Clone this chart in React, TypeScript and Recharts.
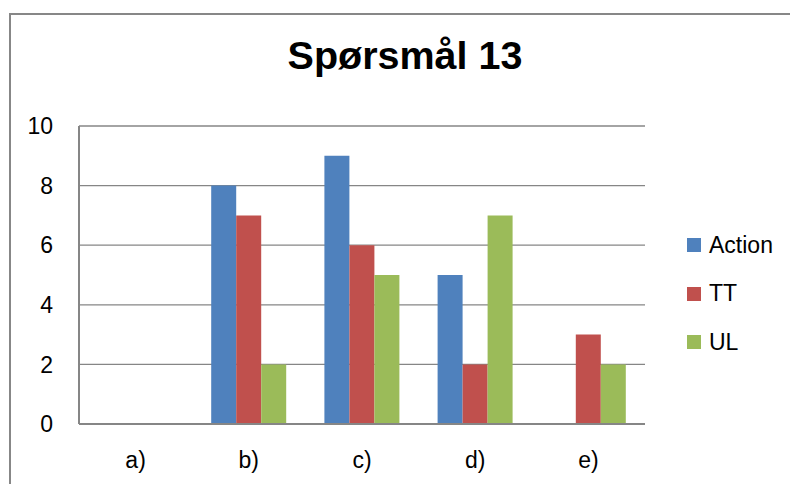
import { BarChart, Bar, XAxis, YAxis, CartesianGrid } from 'recharts'

const categories = ['a)', 'b)', 'c)', 'd)', 'e)']
const action = [0, 8, 9, 5, 0]
const tt = [0, 7, 6, 2, 3]
const ul = [0, 2, 5, 7, 2]
const yTicks = [0, 2, 4, 6, 8, 10]

const seriesInfo = [
  { key: 'Action', color: '#4f81bd' },
  { key: 'TT', color: '#c0504d' },
  { key: 'UL', color: '#9bbb59' },
]

const data = categories.map((c, i) => ({ cat: c, Action: action[i], TT: tt[i], UL: ul[i] }))

const FONT = '"Liberation Sans", Arial, sans-serif'

// legend sits right of the plot, drawn as plain html
const LegendBox = () => (
  <div style={{ position: 'absolute', left: 687, top: 221, fontFamily: FONT, fontSize: 23, color: '#000' }}>
    {seriesInfo.map((s) => (
      <div key={s.key} style={{ display: 'flex', alignItems: 'center', height: 48.5 }}>
        <span style={{ width: 14, height: 14, background: s.color, marginRight: 8, display: 'inline-block' }} />
        <span>{s.key}</span>
      </div>
    ))}
  </div>
)

export default function App() {
  return (
    <div style={{ position: 'absolute', left: 0, top: 0, width: 790, height: 484, background: '#fff', overflow: 'hidden' }}>
      <BarChart
        width={790}
        height={484}
        data={data}
        margin={{ top: 126, right: 145, bottom: 0, left: 0 }}
        barCategoryGap={19}
        barGap={0}
      >
        <CartesianGrid vertical={false} stroke="#868686" strokeWidth={1.3} />
        <XAxis
          dataKey="cat"
          height={60}
          axisLine={{ stroke: '#868686', strokeWidth: 2 }}
          tickLine={false}
          tickSize={6}
          tickMargin={22}
          tick={{ fill: '#000', fontFamily: FONT, fontSize: 23 }}
        />
        <YAxis
          width={79}
          domain={[0, 10]}
          ticks={yTicks}
          axisLine={{ stroke: '#868686', strokeWidth: 2 }}
          tickLine={false}
          tickSize={6}
          tickMargin={20}
          tick={{ fill: '#000', fontFamily: FONT, fontSize: 23 }}
        />
        {seriesInfo.map((s) => (
          <Bar key={s.key} dataKey={s.key} fill={s.color} isAnimationActive={false} />
        ))}
      </BarChart>
      <LegendBox />
      <svg width={790} height={484} style={{ position: 'absolute', left: 0, top: 0, pointerEvents: 'none' }}>
        <rect x={10} y={14} width={800} height={500} fill="none" stroke="#878787" strokeWidth={2} />
        <text
          x={405}
          y={69}
          textAnchor="middle"
          fontFamily={FONT}
          fontWeight="bold"
          fontSize={39.5}
          fill="#000"
        >
          Spørsmål 13
        </text>
      </svg>
    </div>
  )
}
